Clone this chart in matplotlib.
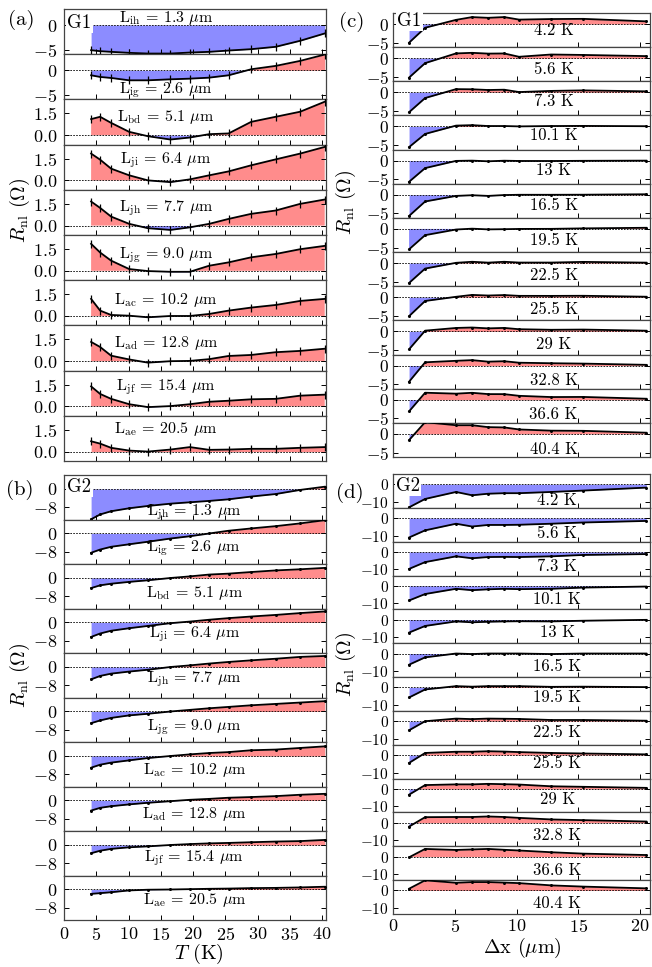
import numpy as np
import matplotlib
matplotlib.use('Agg')
import matplotlib.pyplot as plt

plt.rcParams.update({
    'font.family': 'serif',
    'font.serif': ['cmr10', 'DejaVu Serif'],
    'mathtext.fontset': 'cm',
    'axes.formatter.use_mathtext': True,
    'axes.unicode_minus': True,
})

# ---------------- data ----------------
temps = [4.2, 5.6, 7.3, 10.1, 13, 16.5, 19.5, 22.5, 25.5, 29, 32.8, 36.6, 40.4]
lengths = [1.3, 2.6, 5.1, 6.4, 7.7, 9.0, 10.2, 12.8, 15.4, 20.5]
names_g1 = ['ih', 'ig', 'bd', 'ji', 'jh', 'jg', 'ac', 'ad', 'jf', 'ae']
names_g2 = ['jh', 'ig', 'bd', 'ji', 'jh', 'jg', 'ac', 'ad', 'jf', 'ae']

# G1: R_nl (Ohm) vs T for each contact spacing
g1_ih = [-5.0, -5.2, -5.33, -5.53, -5.67, -5.67, -5.47, -5.33, -5.07, -4.8, -4.33, -3.13, -1.67]
g1_ig = [-1.0, -1.33, -1.53, -2.0, -2.0, -1.8, -1.67, -1.47, -1.0, 0.2, 0.87, 1.87, 3.13]
g1_bd = [1.11, 1.27, 0.85, 0.23, -0.07, -0.30, -0.16, 0.07, 0.12, 0.92, 1.27, 1.62, 2.31]
g1_ji = [1.85, 1.43, 0.81, 0.35, 0.0, -0.12, 0.07, 0.35, 0.62, 1.04, 1.45, 1.85, 2.31]
g1_jh = [1.66, 1.22, 0.62, 0.12, -0.18, -0.30, -0.12, 0.12, 0.46, 0.81, 1.04, 1.50, 1.80]
g1_jg = [1.86, 1.26, 0.70, 0.12, -0.02, -0.07, -0.07, 0.35, 0.58, 0.93, 1.16, 1.49, 1.72]
g1_ac = [1.18, 0.37, 0.07, 0.02, -0.09, 0.0, 0.0, 0.14, 0.37, 0.58, 0.76, 1.04, 1.18]
g1_ad = [1.33, 0.98, 0.38, 0.12, -0.10, 0.0, 0.02, 0.14, 0.36, 0.43, 0.62, 0.71, 0.86]
g1_jf = [1.38, 0.86, 0.52, 0.15, -0.05, 0.02, 0.15, 0.32, 0.39, 0.49, 0.52, 0.74, 0.81]
g1_ae = [0.71, 0.55, 0.26, 0.07, 0.0, 0.14, 0.31, 0.12, 0.14, 0.19, 0.19, 0.26, 0.31]

# G2: R_nl (Ohm) vs T for each contact spacing
g2_jh = [-13.2, -11.1, -9.7, -8.4, -7.4, -6.4, -5.8, -5.2, -4.5, -3.3, -2.2, -0.4, 1.0]
g2_ig = [-8.4, -7.0, -5.8, -4.7, -3.6, -2.2, -1.2, 0.0, 1.2, 2.2, 3.2, 4.4, 5.8]
g2_bd = [-4.4, -3.2, -2.5, -1.7, -1.0, 0.0, 0.7, 1.5, 1.9, 2.6, 3.3, 3.8, 4.4]
g2_ji = [-6.3, -4.8, -3.6, -2.5, -1.5, -0.3, 0.4, 1.2, 1.9, 2.6, 3.3, 4.1, 4.8]
g2_jh7 = [-5.4, -3.9, -2.9, -2.0, -1.2, 0.0, 0.7, 1.5, 2.2, 2.9, 3.6, 4.4, 4.8]
g2_jg = [-5.1, -3.9, -2.8, -1.7, -1.0, 0.0, 0.7, 1.4, 2.0, 2.7, 3.3, 3.9, 4.5]
g2_ac = [-5.1, -3.8, -2.9, -1.9, -0.9, 0.0, 0.7, 1.3, 1.7, 2.5, 2.8, 3.5, 4.2]
g2_ad = [-4.4, -3.2, -2.5, -1.7, -1.0, -0.3, 0.3, 0.7, 1.2, 1.5, 1.9, 2.5, 2.9]
g2_jf = [-3.6, -2.5, -1.7, -1.0, -0.6, 0.0, 0.4, 0.7, 0.9, 1.2, 1.5, 1.7, 2.2]
g2_ae = [-1.9, -1.6, -1.2, -0.4, -0.1, 0.0, 0.15, 0.3, 0.4, 0.6, 0.7, 0.9, 1.2]

g1_series = [g1_ih, g1_ig, g1_bd, g1_ji, g1_jh, g1_jg, g1_ac, g1_ad, g1_jf, g1_ae]
g2_series = [g2_jh, g2_ig, g2_bd, g2_ji, g2_jh7, g2_jg, g2_ac, g2_ad, g2_jf, g2_ae]

# ---------------- layout / style ----------------
W, H = 652, 967
RED = '#ff8c8c'
BLUE = '#8c8cff'
SPINE = '#444444'

fig = plt.figure(figsize=(W / 100, H / 100), dpi=100)


def fx(x):
    return x / W


def fy(y):
    return 1 - y / H


def column(left, right, top, bottom, n):
    h = (bottom - top) / n
    axs = []
    for i in range(n):
        t = top + i * h
        axs.append(fig.add_axes([fx(left), fy(t + h), (right - left) / W, h / H]))
    return axs


def draw(ax, x, y, xlim, ylim, yticks, xticks, marker, ms, ypad, fs):
    x = np.asarray(x, float)
    y = np.asarray(y, float)
    ax.fill_between(x, y, 0, where=y >= 0, interpolate=True, color=RED, lw=0, zorder=1)
    ax.fill_between(x, y, 0, where=y <= 0, interpolate=True, color=BLUE, lw=0, zorder=1)
    ax.axhline(0, color='k', lw=0.6, ls=(0, (2.0, 1.5)), zorder=2)
    ax.plot(x, y, color='k', lw=1.3, marker=marker, ms=ms, mew=0.9, zorder=3)
    ax.set_xlim(xlim)
    ax.set_ylim(ylim)
    ax.set_yticks(yticks)
    ax.set_xticks(xticks)
    ax.tick_params(direction='in', right=True, labelsize=fs, length=3.5, width=0.7)
    ax.tick_params(axis='y', pad=ypad)
    ax.tick_params(axis='x', labelbottom=False, pad=4.0)
    for s in ax.spines.values():
        s.set_color(SPINE)
        s.set_linewidth(0.9)


# positions of the in-panel labels (axes fraction from bottom)
a_lab_y = [0.81, 0.20, 0.61, 0.655, 0.585, 0.55, 0.57, 0.60, 0.64, 0.70]
b_lab_y = [0.175, 0.35, 0.35, 0.43, 0.41, 0.34, 0.36, 0.38, 0.40, 0.45]
c_lab_y = [0.48, 0.36, 0.42, 0.42, 0.40, 0.38, 0.35, 0.33, 0.33, 0.29, 0.25, 0.25, 0.23]
d_lab_y = [0.22, 0.25, 0.27, 0.30, 0.31, 0.33, 0.40, 0.38, 0.44, 0.39, 0.33, 0.28, 0.32]

T_XLIM = (0, 40.6)
X_XLIM = (0, 20.8)
T_TICKS = [0, 5, 10, 15, 20, 25, 30, 35, 40]
X_TICKS = [0, 5, 10, 15, 20]

# ---------------- panel (a) ----------------
axA = column(64, 326, 9, 461, 10)
for i, ax in enumerate(axA):
    if i < 2:
        draw(ax, temps, g1_series[i], T_XLIM, (-5.8, 3.2), [-5, 0], T_TICKS, '|', 6, 5.0, 13)
    else:
        draw(ax, temps, g1_series[i], T_XLIM, (-0.65, 2.47), [0, 1.5], T_TICKS, '|', 6, 5.0, 13)
    ax.text(15.8, a_lab_y[i], r'L$_{\rm %s}$ = %.1f $\mu$m' % (names_g1[i], lengths[i]),
            transform=ax.get_xaxis_transform(), ha='center', va='center', fontsize=11.5, zorder=5)

# ---------------- panel (b) ----------------
axB = column(64, 326, 475, 920, 10)
for i, ax in enumerate(axB):
    draw(ax, temps, g2_series[i], T_XLIM, (-13.3, 6.1), [-8, 0], T_TICKS, '.', 2.5, 5.0, 13)
    ax.text(20.2, b_lab_y[i], r'L$_{\rm %s}$ = %.1f $\mu$m' % (names_g2[i], lengths[i]),
            transform=ax.get_xaxis_transform(), ha='center', va='center', fontsize=11.5, zorder=5)
axB[-1].tick_params(axis='x', labelbottom=True)

# ---------------- panel (c) ----------------
c_rows = np.array(g1_series).T
axC = column(393, 650, 13, 457, 13)
for i, ax in enumerate(axC):
    draw(ax, lengths, c_rows[i], X_XLIM, (-6.2, 2.95), [-5, 0], X_TICKS, '.', 2.5, 3.0, 12.5)
    ax.text(13.0, c_lab_y[i], '%g K' % temps[i], transform=ax.get_xaxis_transform(),
            ha='center', va='center', fontsize=12, zorder=5)

# ---------------- panel (d) ----------------
d_rows = np.array(g2_series).T
axD = column(393, 650, 474, 914, 13)
for i, ax in enumerate(axD):
    draw(ax, lengths, d_rows[i], X_XLIM, (-13.5, 5.9), [-10, 0], X_TICKS, '.', 2.5, 3.0, 11)
    ax.text(13.3, d_lab_y[i], '%g K' % temps[i], transform=ax.get_xaxis_transform(),
            ha='center', va='center', fontsize=12, zorder=5)
axD[-1].tick_params(axis='x', labelbottom=True, pad=3.0, labelsize=13)

# ---------------- figure-level texts ----------------
box = dict(fc='white', ec='none', pad=1.0)
fig.text(fx(21), fy(20), '(a)', ha='center', va='center', fontsize=15)
fig.text(fx(20), fy(490), '(b)', ha='center', va='center', fontsize=15)
fig.text(fx(352), fy(22), '(c)', ha='center', va='center', fontsize=15)
fig.text(fx(350), fy(493), '(d)', ha='center', va='center', fontsize=15)

fig.text(fx(67.5), fy(23), 'G1', ha='left', va='center', fontsize=13.5, bbox=box, zorder=10)
fig.text(fx(67.5), fy(487), 'G2', ha='left', va='center', fontsize=13.5, bbox=box, zorder=10)
fig.text(fx(397), fy(21), 'G1', ha='left', va='center', fontsize=13.5, bbox=box, zorder=10)
fig.text(fx(396), fy(486), 'G2', ha='left', va='center', fontsize=13.5, bbox=box, zorder=10)

ylab = r'$R_{\rm nl}$ ($\Omega$)'
fig.text(fx(20), fy(210), ylab, rotation=90, ha='center', va='center', fontsize=14.5)
fig.text(fx(20), fy(675), ylab, rotation=90, ha='center', va='center', fontsize=14.5)
fig.text(fx(346), fy(202), ylab, rotation=90, ha='center', va='center', fontsize=14.5)
fig.text(fx(346), fy(664), ylab, rotation=90, ha='center', va='center', fontsize=14.5)

fig.text(fx(199), fy(954), r'$T$ (K)', ha='center', va='center', fontsize=14.5)
fig.text(fx(522), fy(948), r'$\Delta$x ($\mu$m)', ha='center', va='center', fontsize=14.5)

fig.savefig('out.png', dpi=100)
